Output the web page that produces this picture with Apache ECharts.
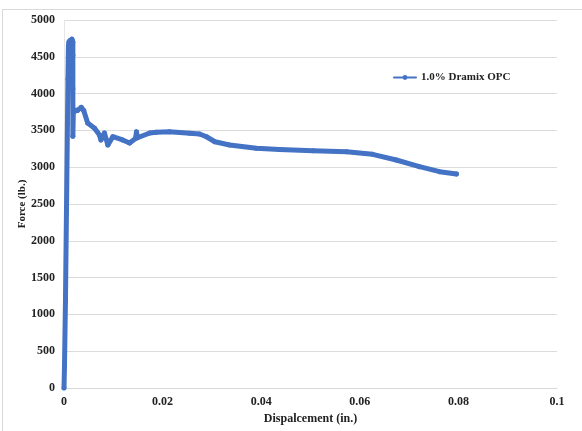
<!DOCTYPE html>
<html>
<head>
<meta charset="utf-8">
<script src="https://cdn.jsdelivr.net/npm/echarts@6/dist/echarts.min.js"></script>
<style>
  html, body { margin: 0; padding: 0; background: #fff; }
  #chart { width: 582px; height: 431px; }
</style>
</head>
<body>
<div id="chart"></div>
<script>
// Load-displacement record for the 1.0% Dramix OPC specimen
const seriesName = '1.0% Dramix OPC';
const displacement = [
  0, 0.0001, 0.0003, 0.0005, 0.0007, 0.0008, 0.0009, 0.0010, 0.0012, 0.0014,
  0.0016, 0.0018, 0.0018, 0.0018, 0.0018, 0.0019, 0.0022, 0.0027, 0.0035, 0.0040,
  0.0048, 0.0062, 0.0072, 0.0075, 0.0082, 0.0089, 0.0099, 0.0119, 0.0133, 0.0145,
  0.0147, 0.0149, 0.0174, 0.0187, 0.0214, 0.0255, 0.0275, 0.0289, 0.0306, 0.0336,
  0.0390, 0.0437, 0.0505, 0.0573, 0.0626, 0.0674, 0.0721, 0.0762, 0.0796
];
const force = [
  0, 300, 1200, 2400, 3600, 4200, 4650, 4700, 4720, 4680,
  4740, 4700, 4520, 4070, 3420, 3780, 3760, 3770, 3813, 3770,
  3600, 3528, 3437, 3370, 3464, 3302, 3414, 3370, 3329, 3390,
  3480, 3400, 3465, 3474, 3482, 3460, 3451, 3414, 3346, 3302,
  3257, 3240, 3225, 3211, 3175, 3098, 3007, 2939, 2908
];
const xTicks = [0, 0.02, 0.04, 0.06, 0.08, 0.1];

const points = displacement.map((d, i) => [d, force[i]]);
const serif = '"Liberation Serif", "DejaVu Serif", serif';
const blue = '#4472C4';
const textBase = { fontFamily: serif, fontWeight: 'bold', fontSize: 12, color: '#222' };

const chart = echarts.init(document.getElementById('chart'));
chart.setOption({
  animation: false,
  backgroundColor: '#fff',
  graphic: [
    { type: 'line', shape: { x1: 2.5, y1: 9, x2: 2.5, y2: 431 }, style: { stroke: '#d9d9d9', lineWidth: 1 } },
    { type: 'line', shape: { x1: 2.5, y1: 9.5, x2: 582, y2: 9.5 }, style: { stroke: '#d9d9d9', lineWidth: 1 } }
  ],
  grid: { left: 64, right: 25, top: 20, bottom: 43, containLabel: false },
  legend: {
    data: [seriesName],
    left: 388, top: 67,
    itemWidth: 22, itemHeight: 6,
    textStyle: Object.assign({}, textBase, { fontSize: 11 })
  },
  xAxis: {
    type: 'value', min: 0, max: 0.1, interval: 0.02,
    name: 'Dispalcement (in.)', nameLocation: 'middle', nameGap: 20,
    nameTextStyle: textBase,
    axisLine: { show: true, lineStyle: { color: '#d9d9d9' } },
    axisTick: { show: false },
    splitLine: { show: false },
    axisLabel: Object.assign({}, textBase, {
      margin: 8,
      formatter: v => { const t = xTicks.find(x => Math.abs(x - v) < 1e-9); return t === undefined ? '' : String(t); }
    })
  },
  yAxis: {
    type: 'value', min: 0, max: 5000, interval: 500,
    name: 'Force (lb.)', nameLocation: 'middle', nameGap: 36, nameRotate: 90,
    nameMoveOverlap: false,
    nameTextStyle: Object.assign({}, textBase, { fontSize: 11 }),
    axisLine: { show: true, lineStyle: { color: '#e6e6e6' } },
    axisTick: { show: false },
    splitLine: { show: true, lineStyle: { color: '#dcdcdc', width: 1 } },
    axisLabel: Object.assign({}, textBase, { margin: 9, formatter: v => String(v) })
  },
  series: [{
    name: seriesName,
    type: 'line',
    data: points,
    color: blue,
    showSymbol: true,
    symbol: 'circle',
    symbolSize: 5,
    lineStyle: { width: 5, color: blue, join: 'round', cap: 'round' },
    itemStyle: { color: blue }
  }]
});
</script>
</body>
</html>
